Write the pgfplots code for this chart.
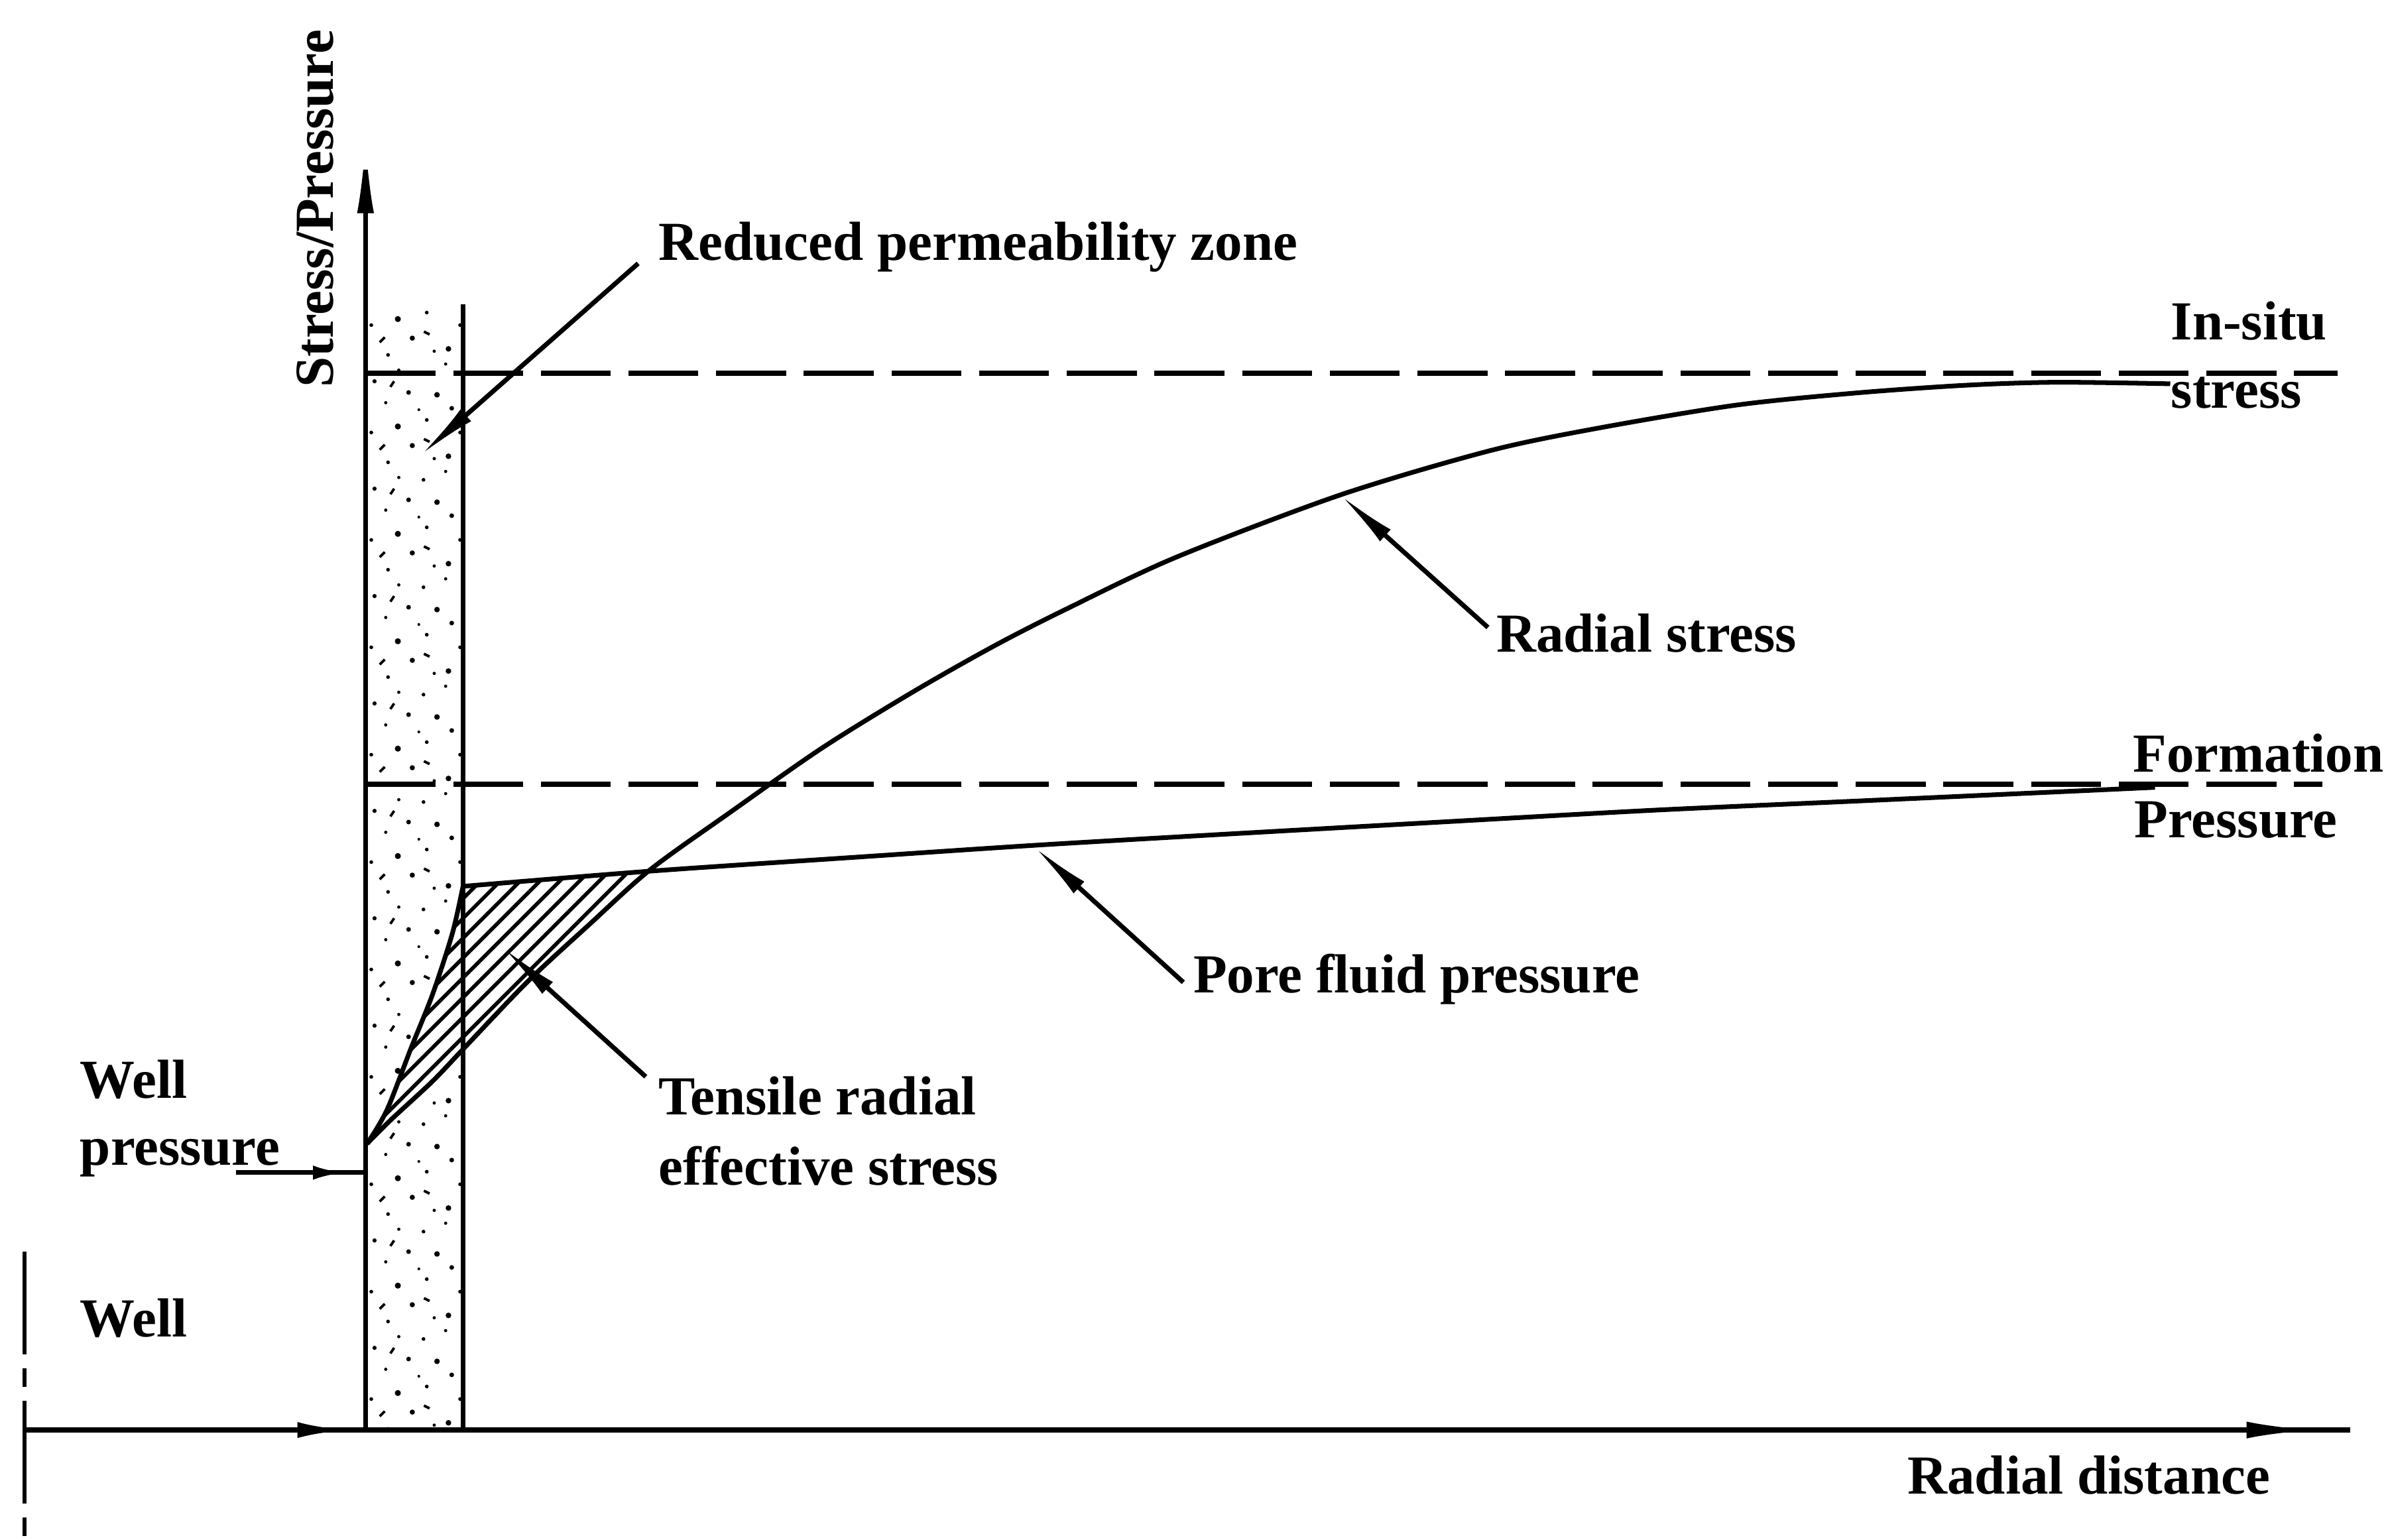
\documentclass[border=0pt]{standalone}
\usepackage{pgfplots}
\pgfplotsset{compat=1.18}
\usepackage{fontspec}
\setmainfont{Liberation Serif}
\usetikzlibrary{arrows.meta,patterns,patterns.meta}

% sparse speckle for the reduced permeability zone
\pgfdeclarepatternformonly{stipple}{\pgfqpoint{0pt}{0pt}}{\pgfqpoint{19pt}{23pt}}{\pgfqpoint{19pt}{23pt}}{%
  \pgfpathcircle{\pgfqpoint{1.2pt}{2.1pt}}{0.6pt}
  \pgfpathcircle{\pgfqpoint{7.3pt}{0.8pt}}{0.4pt}
  \pgfpathcircle{\pgfqpoint{12.5pt}{4.4pt}}{0.55pt}
  \pgfpathcircle{\pgfqpoint{17.2pt}{1.6pt}}{0.35pt}
  \pgfpathcircle{\pgfqpoint{3.7pt}{7.2pt}}{0.4pt}
  \pgfpathcircle{\pgfqpoint{9.4pt}{8.5pt}}{0.65pt}
  \pgfpathcircle{\pgfqpoint{15.6pt}{9.9pt}}{0.4pt}
  \pgfpathcircle{\pgfqpoint{1.9pt}{12.4pt}}{0.5pt}
  \pgfpathcircle{\pgfqpoint{6.8pt}{13.6pt}}{0.35pt}
  \pgfpathcircle{\pgfqpoint{11.7pt}{15.8pt}}{0.5pt}
  \pgfpathcircle{\pgfqpoint{17.8pt}{15.3pt}}{0.6pt}
  \pgfpathcircle{\pgfqpoint{4.4pt}{18.2pt}}{0.45pt}
  \pgfpathcircle{\pgfqpoint{9.6pt}{20.6pt}}{0.35pt}
  \pgfpathcircle{\pgfqpoint{14.9pt}{20.1pt}}{0.4pt}
  \pgfpathcircle{\pgfqpoint{0.6pt}{21.9pt}}{0.35pt}
  \pgfpathcircle{\pgfqpoint{13.9pt}{12.1pt}}{0.3pt}
  \pgfusepath{fill}
  \pgfpathmoveto{\pgfqpoint{5.5pt}{3.5pt}}\pgfpathlineto{\pgfqpoint{6.6pt}{4.6pt}}
  \pgfpathmoveto{\pgfqpoint{15.0pt}{5.8pt}}\pgfpathlineto{\pgfqpoint{16.2pt}{5.2pt}}
  \pgfpathmoveto{\pgfqpoint{7.8pt}{17.0pt}}\pgfpathlineto{\pgfqpoint{8.6pt}{18.2pt}}
  \pgfsetlinewidth{0.55pt}
  \pgfusepath{stroke}
}

\newcommand{\lbl}{\fontsize{11.8}{13}\selectfont\bfseries}
\tikzset{
  lab/.style={anchor=base west, inner sep=0pt, font=\lbl},
  leader/.style={line width=1pt, -{Latex[length=13pt,width=3.4pt]}},
}

\begin{document}
\begin{tikzpicture}
\begin{axis}[width=18cm, height=11.606cm, scale only axis,
  xmin=0, xmax=1568, ymin=0, ymax=1011, y dir=reverse,
  hide axis, clip=false]

% reduced permeability zone
\addplot[draw=none, pattern=stipple] coordinates {(241,200) (304,200) (304,939) (241,939)};

% tensile radial effective stress (between pore pressure and radial stress)
\addplot[draw=none, fill=white] coordinates {
  (241,751) (254,729) (270,688) (284,653) (297,613) (304,582) (427,572)
  (387,607) (347,644) (304,689) (284,710) (257,735) (241,751)};
\addplot[draw=none, pattern={Lines[angle=45,distance=3pt,line width=0.8pt]}] coordinates {
  (241,751) (254,729) (270,688) (284,653) (297,613) (304,582) (427,572)
  (387,607) (347,644) (304,689) (284,710) (257,735) (241,751)};

% band edge
\addplot[black, line width=1pt] coordinates {(304,200) (304,939)};

% in-situ stress and formation pressure
\addplot[black, line width=1.1pt, dash pattern=on 15pt off 3.8pt] coordinates {(240,245) (1535,245)};
\addplot[black, line width=1.1pt, dash pattern=on 15pt off 3.8pt] coordinates {(240,515) (1525,515)};

% radial stress
\addplot[black, line width=1pt, smooth, tension=0.5] coordinates {
  (241,751) (257,735) (284,710) (304,689) (347,644) (387,607) (427,571)
  (480,533) (540,491) (600,454) (653,424) (700,400) (772,366) (880,325)
  (978,296) (1050,281) (1140,266) (1219,258) (1290,253) (1350,251) (1425,252)};

% pore fluid pressure
\addplot[black, line width=1pt, smooth, tension=0.5] coordinates {
  (241,751) (254,729) (270,688) (284,653) (297,613) (304,582)};
\addplot[black, line width=1pt, smooth, tension=0.5] coordinates {
  (304,582) (427,572) (560,563) (680,555) (800,548) (942,540) (1086,532)
  (1219,526) (1350,520) (1415,517)};

% axes
\draw[line width=1pt] (axis cs:240,939) -- (axis cs:240,130);
\draw[line width=1pt, -{Latex[length=16pt,width=3.6pt]}] (axis cs:240,150) -- (axis cs:240,91);
\draw[line width=1.1pt] (axis cs:16,939) -- (axis cs:1543,939);
\draw[line width=1.1pt, -{Latex[length=15pt,width=3.6pt]}] (axis cs:1468,939) -- (axis cs:1521,939);
\draw[line width=1.1pt, -{Latex[length=11pt,width=3.4pt]}] (axis cs:190,939) -- (axis cs:229,939);
\draw[line width=0.9pt, dash pattern=on 22pt off 3pt on 4pt off 3pt] (axis cs:16,822) -- (axis cs:16,1011);

% well pressure arrow
\draw[line width=1pt] (axis cs:155,770) -- (axis cs:240,770);
\draw[line width=1pt, -{Latex[length=7pt,width=3pt]}] (axis cs:200,770) -- (axis cs:227,770);

% leaders
\draw[leader] (axis cs:419,173) -- (axis cs:276,299);
\draw[leader] (axis cs:424,707) -- (axis cs:330,622);
\draw[leader] (axis cs:977,412) -- (axis cs:880,325);
\draw[leader] (axis cs:777,645) -- (axis cs:679,556);

% labels
\node[font=\lbl, rotate=90, inner sep=0pt] at (axis cs:207,137) {Stress/Pressure};
\node[lab] at (axis cs:432,171) {Reduced permeability zone};
\node[lab] at (axis cs:1425,223) {In-situ};
\node[lab] at (axis cs:1425,268) {stress};
\node[lab] at (axis cs:982,428) {Radial stress};
\node[lab] at (axis cs:1400,507) {Formation};
\node[lab] at (axis cs:1401,550) {Pressure};
\node[lab] at (axis cs:783,652) {Pore fluid pressure};
\node[lab] at (axis cs:432,732) {Tensile radial};
\node[lab] at (axis cs:432,778) {effective stress};
\node[lab] at (axis cs:52,721) {Well};
\node[lab] at (axis cs:52,765) {pressure};
\node[lab] at (axis cs:52,878) {Well};
\node[lab] at (axis cs:1252,981) {Radial distance};
\end{axis}
\pgfresetboundingbox
\useasboundingbox (current axis.south west) rectangle (current axis.north east);
\end{tikzpicture}
\end{document}
